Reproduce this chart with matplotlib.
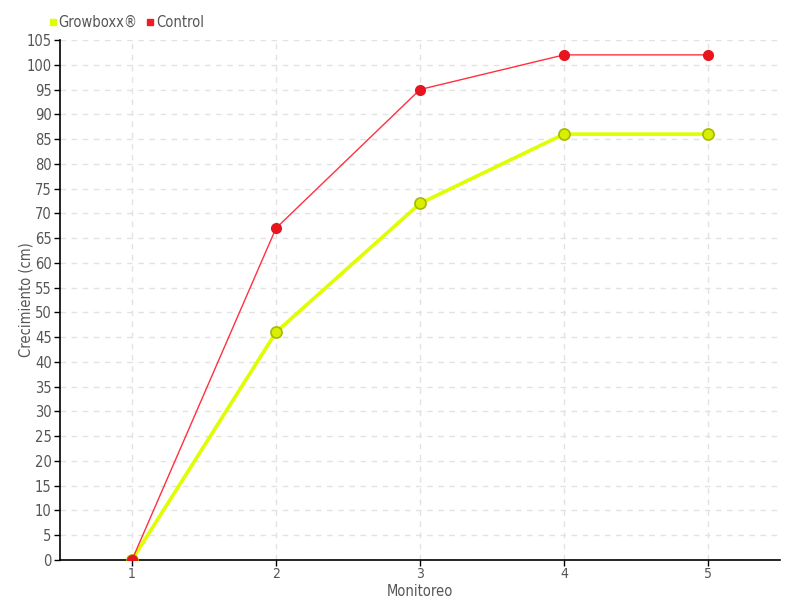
import matplotlib
matplotlib.use("Agg")
import matplotlib.pyplot as plt
from matplotlib.lines import Line2D

plt.rcParams['font.family'] = ['DejaVu Sans']
plt.rcParams['font.stretch'] = 'condensed'

monitoreo = [1, 2, 3, 4, 5]
growboxx = [0, 46, 72, 86, 86]
control = [0, 67, 95, 102, 102]
yticks = list(range(0, 106, 5))

fig = plt.figure(figsize=(8, 6), dpi=100)
ax = fig.add_axes([0.075, 0.0667, 0.9, 0.8666])

txt = "#555555"
ax.plot(monitoreo, growboxx, color="#dfff00", lw=2.6, marker="o", ms=8,
        mfc="#d8f000", mec="#a8b800", mew=1.2, zorder=3)
ax.plot(monitoreo, control, color="#ff3040", lw=1, marker="o", ms=7,
        mfc="#e8141e", mec="#e8141e", zorder=4)

ax.set_xlim(0.5, 5.5)
ax.set_ylim(0, 105)
ax.set_xticks(monitoreo)
ax.set_yticks(yticks)
ax.tick_params(axis='both', colors="#000000", labelcolor=txt, labelsize=10.5, length=4, width=1, pad=2)
ax.tick_params(axis='x', labelsize=10, pad=1)
ax.grid(True, color="#e2e2e2", linestyle=(0, (4, 4)), lw=1)
ax.set_axisbelow(True)
for s in ["top", "right"]:
    ax.spines[s].set_visible(False)
for s in ["left", "bottom"]:
    ax.spines[s].set_color("black")
    ax.spines[s].set_linewidth(1.2)

ax.set_xlabel("Monitoreo", color=txt, fontsize=10.5)
ax.set_ylabel("Crecimiento (cm)", color=txt, fontsize=10.5)
ax.xaxis.set_label_coords(0.5, -0.046)
ax.yaxis.set_label_coords(-0.037, 0.5)

handles = [Line2D([], [], ls="none", marker="s", ms=5, mfc="#dfff00", mec="#dfff00"),
           Line2D([], [], ls="none", marker="s", ms=5, mfc="#ee1c25", mec="#ee1c25")]
leg = fig.legend(handles, ["Growboxx®", "Control"], loc="upper left",
                 bbox_to_anchor=(0.045, 0.997), ncol=2, frameon=False,
                 fontsize=10.5, handlelength=0.5, handletextpad=0.15, columnspacing=0.6,
                 labelcolor=txt)

fig.savefig("out.png", dpi=100)
